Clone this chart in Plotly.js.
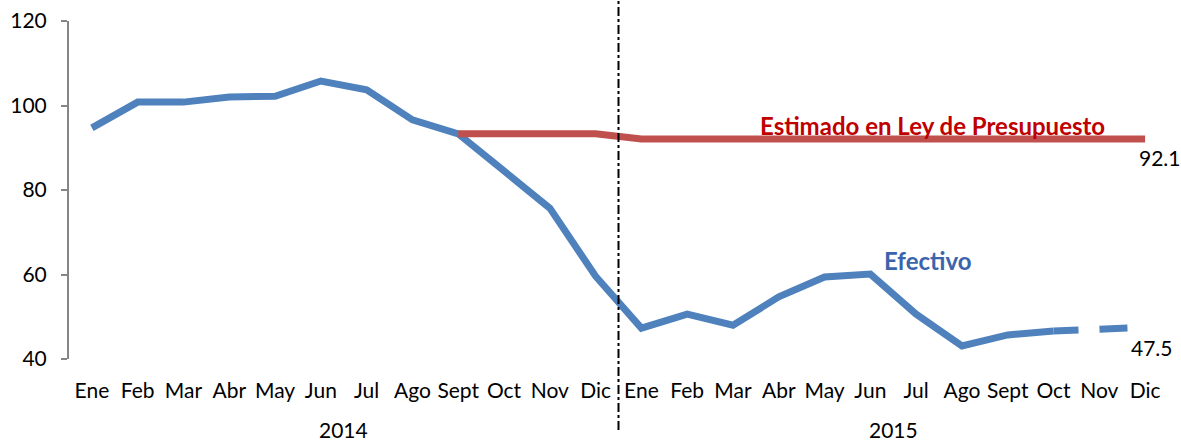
<!DOCTYPE html>
<html>
<head>
<meta charset="utf-8">
<script src="https://cdn.plot.ly/plotly-3.0.1.min.js"></script>
<style>html,body{margin:0;padding:0;background:#fff;}#chart{width:1181px;height:445px;}</style>
</head>
<body>
<div id="chart"></div>
<script>
const months = ["Ene","Feb","Mar","Abr","May","Jun","Jul","Ago","Sept","Oct","Nov","Dic",
                "Ene","Feb","Mar","Abr","May","Jun","Jul","Ago","Sept","Oct","Nov","Dic"];
const years = ["2014","2015"];
const efectivo = [94.7,100.8,100.8,102.0,102.2,105.8,103.7,96.6,93.3,84.5,75.7,59.6,
                  47.3,50.6,48.0,54.7,59.4,60.1,50.6,43.1,45.7,46.6,47.1,47.5];
const estimado = [null,null,null,null,null,null,null,null,93.3,93.3,93.3,93.3,
                  92.1,92.1,92.1,92.1,92.1,92.1,92.1,92.1,92.1,92.1,92.1,92.1];
const labelEstimado = "Estimado en Ley de Presupuesto";
const labelEfectivo = "Efectivo";

const idx = months.map((_, i) => i);
const solidEnd = 21; // Oct 2015
const efSolidX = idx.slice(0, solidEnd + 1);
const efSolidY = efectivo.slice(0, solidEnd + 1);
const efDashX = idx.slice(solidEnd);
const efDashY = efectivo.slice(solidEnd);

const blue = "#4F81BD", red = "#C0504D";
const font = "Lato, 'Open Sans', sans-serif";

const traces = [
  {x: efSolidX, y: efSolidY, mode: "lines", line: {color: blue, width: 7}, hoverinfo: "skip", showlegend: false},
  {x: efDashX, y: efDashY, mode: "lines", line: {color: blue, width: 7, dash: "25px,21px,28px,40px"}, hoverinfo: "skip", showlegend: false},
  {x: idx, y: estimado, mode: "lines", line: {color: red, width: 7}, hoverinfo: "skip", showlegend: false}
];

const last = idx.length - 1;
const layout = {
  width: 1181, height: 445,
  margin: {l: 69, r: 13, t: 21, b: 86},
  paper_bgcolor: "#fff", plot_bgcolor: "#fff",
  font: {family: font, size: 21, color: "#000"},
  showlegend: false,
  xaxis: {
    range: [-0.5, 23.5], tickmode: "array", tickvals: idx, ticktext: months,
    showgrid: false, zeroline: false, showline: false, ticks: "", ticklabelstandoff: 17,
    tickfont: {family: font, size: 21, color: "#000"}, fixedrange: true
  },
  yaxis: {
    range: [40, 120], tickmode: "array", tickvals: [40,60,80,100,120],
    showgrid: false, zeroline: false, showline: true, linecolor: "#868686", linewidth: 2,
    ticks: "outside", ticklen: 6, tickcolor: "#868686", tickwidth: 2, ticklabelstandoff: 10,
    tickfont: {family: font, size: 21, color: "#000"}, fixedrange: true
  },
  shapes: [{
    type: "line", xref: "x", yref: "paper", x0: 11.5, x1: 11.5, y0: -0.21, y1: 1.07,
    line: {color: "#000", width: 2, dash: "dashdot"}
  }],
  annotations: [
    {xref: "x", yref: "paper", x: 5.5, y: -0.208, text: years[0], showarrow: false, yanchor: "middle", borderpad: 0, font: {family: font, size: 21}},
    {xref: "x", yref: "paper", x: 17.5, y: -0.208, text: years[1], showarrow: false, yanchor: "middle", borderpad: 0, font: {family: font, size: 21}},
    {x: last, y: estimado[last], text: estimado[last].toFixed(1), showarrow: false, xshift: 15, yshift: -19, font: {family: font, size: 21}},
    {x: last, y: efectivo[last], text: efectivo[last].toFixed(1), showarrow: false, xshift: 7, yshift: -20, font: {family: font, size: 21}},
    {x: 18.36, y: 95.15, text: "<b>" + labelEstimado + "</b>", showarrow: false, font: {family: font, size: 24, color: "#C00000"}},
    {x: 18.25, y: 63.4, text: "<b>" + labelEfectivo + "</b>", showarrow: false, font: {family: font, size: 24, color: "#3B64AD"}}
  ]
};

Plotly.newPlot("chart", traces, layout, {displayModeBar: false, staticPlot: true});
</script>
</body>
</html>
